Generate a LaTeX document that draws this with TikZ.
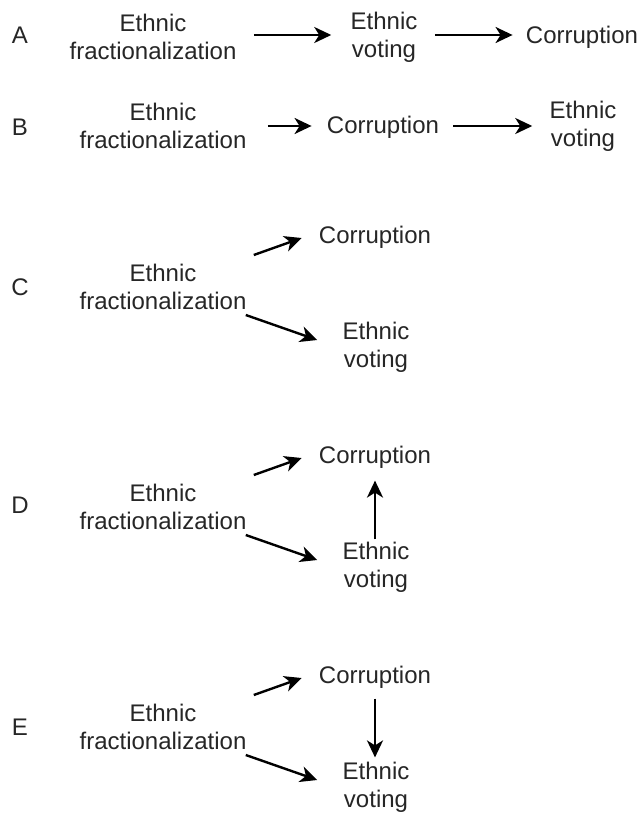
\documentclass[tikz,border=0pt]{standalone}
\usepackage{fontspec}
\setmainfont{Liberation Sans}
\usepackage{tikz}
\usetikzlibrary{arrows.meta,positioning,calc}

\begin{document}
\begin{tikzpicture}[
  x=0.5pt,y=-0.5pt,
  txt/.style={align=center,inner sep=0pt,font=\fontsize{12}{14}\selectfont,text=black!85},
  tag/.style={inner sep=0pt,font=\fontsize{12}{14}\selectfont,text=black!85},
  arrow/.style={-{Stealth[length=8.5pt,width=8pt,inset=2.5pt]},line width=1.2pt}
]
  \useasboundingbox[fill=white] (0,0) rectangle (642,813);
  % A: fractionalization -> voting -> corruption
  \node[tag] (tagA) at (20,35) {A};
  \node[txt] (efA) at (153,37) {Ethnic\\fractionalization};
  \node[txt] (evA) at (384,37) {Ethnic\\voting};
  \node[txt] (corA) at (582,37) {Corruption};
  \draw[arrow] ($(efA.east)+(17,-2)$) -- ($(efA.east -| evA.west)+(-19,-2)$);
  \draw[arrow] ($(evA.east)+(17,-2)$) -- ($(evA.east -| corA.west)+(-13,-2)$);
  % B: fractionalization -> corruption -> voting
  \node[tag] (tagB) at (20,127) {B};
  \node[txt] (efB) at (163,126) {Ethnic\\fractionalization};
  \node[txt] (corB) at (383,127) {Corruption};
  \node[txt] (evB) at (583,126) {Ethnic\\voting};
  \draw[arrow] ($(corB.west -| efB.east)+(21,-1)$) -- ($(corB.west)+(-15,-1)$);
  \draw[arrow] ($(corB.east)+(14,-1)$) -- ($(corB.east -| evB.west)+(-17,-1)$);
  % C: fractionalization -> both
  \node[tag] (tagC) at (20,287) {C};
  \node[txt] (efC) at (163,287) {Ethnic\\fractionalization};
  \node[txt] (corC) at (375,237) {Corruption};
  \node[txt] (evC) at (376,347) {Ethnic\\voting};
  \draw[arrow] ($(efC.east)+(7,-32)$) -- ($(corC.west)+(-17,1)$);
  \draw[arrow] ($(efC.east)+(-1,28)$) -- ($(evC.west)+(-25,-7)$);
  % D: voting -> corruption
  \node[tag] (tagD) at (20,505) {D};
  \node[txt] (efD) at (163,507) {Ethnic\\fractionalization};
  \node[txt] (corD) at (375,457) {Corruption};
  \node[txt] (evD) at (376,567) {Ethnic\\voting};
  \draw[arrow] ($(efD.east)+(7,-32)$) -- ($(corD.west)+(-17,1)$);
  \draw[arrow] ($(efD.east)+(-1,28)$) -- ($(evD.west)+(-25,-7)$);
  \draw[arrow] ($(evD.north -| corD.south)+(0,-2)$) -- ($(corD.south)+(0,12)$);
  % E: corruption -> voting
  \node[tag] (tagE) at (20,727) {E};
  \node[txt] (efE) at (163,727) {Ethnic\\fractionalization};
  \node[txt] (corE) at (375,677) {Corruption};
  \node[txt] (evE) at (376,787) {Ethnic\\voting};
  \draw[arrow] ($(efE.east)+(7,-32)$) -- ($(corE.west)+(-17,1)$);
  \draw[arrow] ($(efE.east)+(-1,28)$) -- ($(evE.west)+(-25,-7)$);
  \draw[arrow] ($(corE.south)+(0,10)$) -- ($(evE.north -| corE.south)+(0,-4)$);
\end{tikzpicture}
\end{document}
